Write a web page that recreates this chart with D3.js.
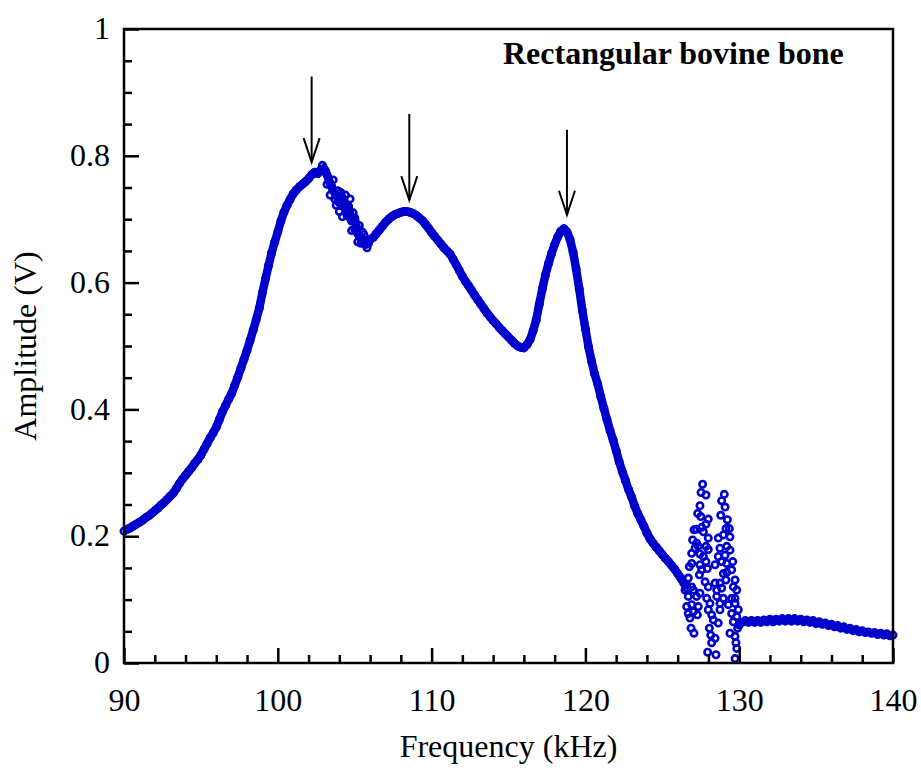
<!DOCTYPE html>
<html>
<head>
<meta charset="utf-8">
<script src="https://cdn.jsdelivr.net/npm/d3@7"></script>
<style>
  body { margin: 0; background: #fff; }
  svg text { font-family: "Liberation Serif", "Times New Roman", serif; fill: #000; }
</style>
</head>
<body>
<div id="chart"></div>
<script>
// amplitude spectrum: [frequency kHz, amplitude V]
const mainCurve = [
  [90.0,.208],[90.2,.211],[90.4,.213],[90.6,.216],[90.8,.219],[91.0,.222],[91.2,.225],[91.4,.229],
  [91.6,.232],[91.8,.236],[92.0,.240],[92.2,.244],[92.4,.249],[92.6,.253],[92.8,.258],[93.0,.263],
  [93.2,.268],[93.4,.275],[93.6,.283],[93.8,.290],[94.0,.296],[94.2,.302],[94.4,.308],[94.6,.315],
  [94.8,.321],[95.0,.328],[95.2,.337],[95.4,.346],[95.6,.355],[95.8,.363],[96.0,.372],[96.2,.384],
  [96.4,.396],[96.6,.406],[96.8,.416],[97.0,.425],[97.2,.438],[97.4,.451],[97.6,.465],[97.8,.479],
  [98.0,.493],[98.2,.509],[98.4,.525],[98.6,.542],[98.8,.560],[99.0,.584],[99.2,.606],[99.4,.627],
  [99.6,.647],[99.8,.664],[100.0,.680],[100.2,.697],[100.4,.711],[100.6,.722],[100.8,.731],[101.0,.740],
  [101.2,.746],[101.4,.751],[101.6,.755],[101.8,.759],[102.0,.764],[102.2,.770],[102.4,.774],[102.6,.772],
  [102.8,.778],[103.0,.780],[103.2,.770],[103.4,.757],[103.6,.745],[103.8,.738],[104.0,.726],[104.2,.734],
  [104.4,.716],[104.6,.720],[104.8,.697],[105.0,.702],[105.2,.677],[105.4,.671],[105.6,.665],[105.8,.666],
  [106.0,.668],[106.2,.671],[106.4,.677],[106.6,.683],[106.8,.689],[107.0,.695],[107.2,.700],[107.4,.704],
  [107.6,.707],[107.8,.709],[108.0,.711],[108.2,.712],[108.4,.712],[108.6,.711],[108.8,.709],[109.0,.706],
  [109.2,.702],[109.4,.698],[109.6,.692],[109.8,.686],[110.0,.679],[110.2,.673],[110.4,.667],[110.6,.661],
  [110.8,.655],[111.0,.650],[111.2,.645],[111.4,.637],[111.6,.628],[111.8,.619],[112.0,.610],[112.2,.602],
  [112.4,.595],[112.6,.588],[112.8,.580],[113.0,.573],[113.2,.566],[113.4,.559],[113.6,.552],[113.8,.546],
  [114.0,.540],[114.2,.535],[114.4,.529],[114.6,.524],[114.8,.519],[115.0,.514],[115.2,.509],[115.4,.504],
  [115.6,.500],[115.8,.498],[116.0,.497],[116.2,.502],[116.4,.510],[116.6,.524],[116.8,.541],[117.0,.566],
  [117.2,.590],[117.4,.612],[117.6,.630],[117.8,.646],[118.0,.660],[118.2,.672],[118.4,.681],[118.6,.685],
  [118.8,.680],[119.0,.668],[119.2,.648],[119.4,.621],[119.6,.590],[119.8,.556],[120.0,.527],[120.2,.499],
  [120.4,.476],[120.6,.456],[120.8,.440],[121.0,.420],[121.2,.402],[121.4,.384],[121.6,.367],[121.8,.352],
  [122.0,.335],[122.2,.317],[122.4,.302],[122.6,.288],[122.8,.274],[123.0,.262],[123.2,.248],[123.4,.236],
  [123.6,.226],[123.8,.216],[124.0,.205],[124.2,.196],[124.4,.189],[124.6,.183],[124.8,.177],[125.0,.171],
  [125.2,.165],[125.4,.160],[125.6,.154],[125.8,.148],[126.0,.141],[126.2,.134],[126.4,.126],[126.6,.118]
];

// second sweep readings in the ragged stretch after the first peak
const wigglePoints = [
  [102.9,.785],[103.1,.776],[103.3,.764],[103.5,.752],[103.7,.732],[103.9,.745],[104.1,.742],
  [104.3,.724],[104.5,.706],[104.7,.732],[104.9,.710],[105.1,.688],[105.3,.690],[105.5,.680],
  [105.7,.660],[105.9,.662],[104.0,.712],[104.6,.704],[105.0,.684],[105.4,.662],
  [103.4,.738],[103.6,.762],[103.8,.722],[104.2,.704],[104.4,.738],[104.8,.682],[105.2,.664],
  [103.2,.755],[105.6,.676],[105.8,.655]
];

// scattered readings in the unstable band around 127-130 kHz
const noisePoints = [
  [127.62,.282],[127.52,.269],[127.84,.265],[127.45,.248],[127.30,.236],[127.50,.231],[127.99,.227],
  [127.84,.219],[127.06,.210],[127.23,.211],[127.56,.214],[127.67,.207],[126.97,.194],[127.23,.189],
  [127.99,.197],[127.13,.181],[126.91,.173],[127.34,.184],[127.84,.184],[127.99,.179],[127.45,.172],
  [127.67,.168],[126.76,.152],[126.91,.157],[127.45,.155],[127.84,.160],[127.93,.149],[126.69,.134],
  [127.41,.139],[127.56,.147],[126.58,.123],[126.91,.120],[126.48,.115],[127.02,.115],[127.78,.128],
  [127.99,.120],[126.69,.105],[127.23,.105],[127.45,.110],[127.89,.102],[126.58,.089],[126.91,.092],
  [127.34,.089],[126.69,.078],[127.02,.081],[127.28,.076],[126.80,.071],[126.87,.055],[127.06,.047],
  [127.95,.017],[128.49,.013],[128.06,.055],[128.15,.044],[128.21,.032],[128.43,.039],[128.10,.094],
  [127.99,.084],[128.21,.076],[128.32,.068],[128.64,.063],
  [129.03,.266],[128.86,.256],[129.08,.246],[128.80,.233],[129.23,.226],[129.14,.212],[129.36,.212],
  [128.64,.197],[128.97,.202],[129.40,.199],[129.19,.184],[128.75,.181],[128.64,.168],[129.40,.178],
  [129.08,.170],[128.43,.155],[128.86,.160],[129.19,.157],[129.58,.160],[128.97,.141],[129.19,.143],
  [129.51,.147],[128.43,.126],[128.75,.126],[129.14,.131],[129.73,.131],[128.54,.115],[128.86,.118],
  [129.62,.120],[129.84,.115],[128.54,.105],[128.97,.102],[129.51,.102],[129.73,.102],[128.75,.094],
  [129.29,.092],[129.73,.094],[128.75,.084],[129.51,.078],[129.94,.084],[129.84,.073],[129.62,.065],
  [129.40,.047],[129.73,.042],[129.79,.032],[129.84,.023],[129.73,.007]
];

const tailCurve = [
  [129.9,.055],[130.0,.060],[130.2,.064],[130.4,.067],[130.6,.064],[130.8,.067],[131.0,.064],[131.2,.067],
  [131.4,.064],[131.6,.068],[131.8,.065],[132.0,.069],[132.2,.065],[132.4,.069],[132.6,.066],[132.8,.070],
  [133.0,.066],[133.2,.070],[133.4,.066],[133.6,.070],[133.8,.066],[134.0,.069],[134.2,.065],[134.4,.068],
  [134.6,.064],[134.8,.067],[135.0,.062],[135.2,.065],[135.4,.061],[135.6,.063],[135.8,.059],[136.0,.061],
  [136.2,.057],[136.4,.059],[136.6,.055],[136.8,.057],[137.0,.053],[137.2,.055],[137.4,.051],[137.6,.053],
  [137.8,.049],[138.0,.051],[138.2,.048],[138.4,.049],[138.6,.047],[138.8,.048],[139.0,.045],[139.2,.047],
  [139.4,.044],[139.6,.046],[139.8,.043],[140.0,.044]
];

// arrows marking the three resonance peaks
const arrowFreq = [102.2, 108.55, 118.8];
const arrowTop = [0.925, 0.866, 0.841];
const arrowTip = [0.79, 0.73, 0.707];

const xMajor = [90, 100, 110, 120, 130, 140];
const xMinor = [92, 94, 96, 98, 102, 104, 106, 108, 112, 114, 116, 118, 122, 124, 126, 128, 132, 134, 136, 138];
const yMajor = [0, 0.2, 0.4, 0.6, 0.8, 1];
const yMinor = [0.05, 0.1, 0.15, 0.25, 0.3, 0.35, 0.45, 0.5, 0.55, 0.65, 0.7, 0.75, 0.85, 0.9, 0.95];

const title = 'Rectangular bovine bone';
const xTitle = 'Frequency (kHz)';
const yTitle = 'Amplitude (V)';

const width = 921, height = 774;
const margin = { top: 29, right: 28, bottom: 111, left: 124 };
const blue = '#0000cc';
const fontSize = 32;

const svg = d3.select('#chart').append('svg')
  .attr('width', width)
  .attr('height', height);

const x = d3.scaleLinear().domain([90, 140]).range([margin.left, width - margin.right]);
const y = d3.scaleLinear().domain([0, 1]).range([height - margin.bottom, margin.top]);

// data first so the axes sit over it
const line = d3.line().x(d => x(d[0])).y(d => y(d[1]));

svg.append('path')
  .datum(mainCurve)
  .attr('d', line)
  .attr('fill', 'none')
  .attr('stroke', blue)
  .attr('stroke-width', 8.5)
  .attr('stroke-linejoin', 'round');

svg.append('path')
  .datum(tailCurve)
  .attr('d', line)
  .attr('fill', 'none')
  .attr('stroke', blue)
  .attr('stroke-width', 7)
  .attr('stroke-linejoin', 'round');

const allPoints = mainCurve.concat(wigglePoints, noisePoints, tailCurve);
svg.append('g')
  .selectAll('circle')
  .data(allPoints)
  .enter().append('circle')
  .attr('cx', d => x(d[0]))
  .attr('cy', d => y(d[1]))
  .attr('r', 3.2)
  .attr('fill', 'none')
  .attr('stroke', blue)
  .attr('stroke-width', 2.6);

// axes
function styleAxis(g) {
  g.select('.domain').remove();
  g.selectAll('line').attr('stroke', '#000').attr('stroke-width', 2.5);
  g.selectAll('text').attr('font-size', fontSize).attr('font-family', '"Liberation Serif", "Times New Roman", serif');
}

svg.append('g')
  .attr('transform', `translate(0,${y(0)})`)
  .call(d3.axisBottom(x).tickValues(xMinor).tickSize(-8).tickFormat(''))
  .call(styleAxis);

svg.append('g')
  .attr('transform', `translate(0,${y(0)})`)
  .call(d3.axisBottom(x).tickValues(xMajor).tickSize(-15).tickFormat(d3.format('d')))
  .call(styleAxis)
  .call(g => g.selectAll('text').attr('y', 48).attr('dy', null));

svg.append('g')
  .attr('transform', `translate(${x(90)},0)`)
  .call(d3.axisLeft(y).tickValues(yMinor).tickSize(-8).tickFormat(''))
  .call(styleAxis);

svg.append('g')
  .attr('transform', `translate(${x(90)},0)`)
  .call(d3.axisLeft(y).tickValues(yMajor).tickSize(-15).tickPadding(14).tickFormat(d => d3.format('')(d)))
  .call(styleAxis)
  .call(g => g.selectAll('text').attr('dy', '0.3em'));

// frame
svg.append('path')
  .attr('d', `M${x(90)},${y(0)}V${y(1)}H${x(140)}V${y(0)}Z`)
  .attr('fill', 'none')
  .attr('stroke', '#000')
  .attr('stroke-width', 2.5);

// arrows
const arrows = svg.append('g')
  .selectAll('g')
  .data(arrowFreq)
  .enter().append('g');

arrows.append('line')
  .attr('x1', d => x(d))
  .attr('x2', d => x(d))
  .attr('y1', (d, i) => y(arrowTop[i]))
  .attr('y2', (d, i) => y(arrowTip[i]))
  .attr('stroke', '#000')
  .attr('stroke-width', 2);

arrows.append('path')
  .attr('d', (d, i) => {
    const tx = x(d), ty = y(arrowTip[i]);
    return `M${tx - 8},${ty - 24}L${tx},${ty}L${tx + 8},${ty - 24}`;
  })
  .attr('fill', 'none')
  .attr('stroke', '#000')
  .attr('stroke-width', 2);

// labels
svg.append('text')
  .attr('x', 503)
  .attr('y', 64)
  .attr('font-size', fontSize)
  .attr('font-weight', 'bold')
  .text(title);

svg.append('text')
  .attr('x', (x(90) + x(140)) / 2)
  .attr('y', 757)
  .attr('text-anchor', 'middle')
  .attr('font-size', fontSize)
  .text(xTitle);

svg.append('text')
  .attr('transform', `translate(36,${(y(0) + y(1)) / 2}) rotate(-90)`)
  .attr('text-anchor', 'middle')
  .attr('font-size', fontSize)
  .text(yTitle);
</script>
</body>
</html>
